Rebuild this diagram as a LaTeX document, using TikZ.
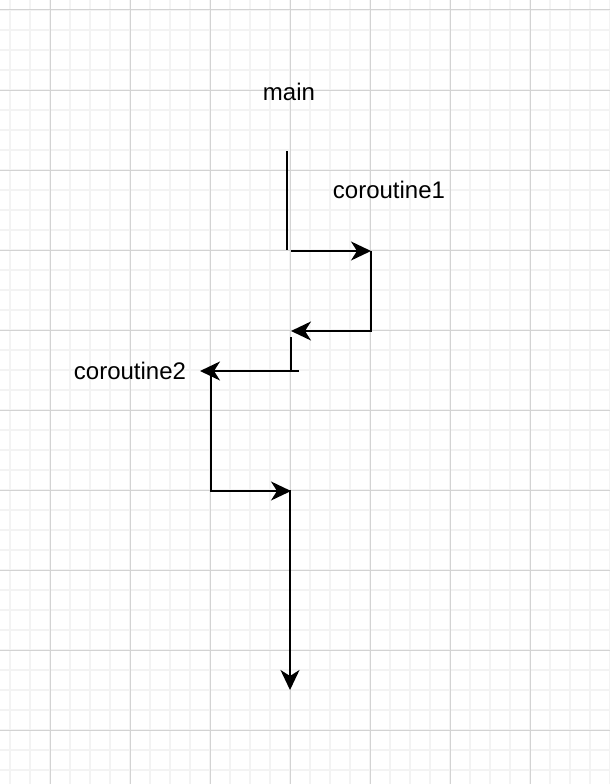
\documentclass[tikz,border=0pt]{standalone}
\usepackage{fontspec}
\setmainfont{Liberation Sans}
\usetikzlibrary{arrows.meta}
\definecolor{minorgrid}{HTML}{F3F3F3}
\definecolor{majorgrid}{HTML}{D3D3D3}
\tikzset{
  lbl/.style={font=\fontsize{24}{28}\selectfont, inner sep=0pt, anchor=center},
  wire/.style={line width=2pt, black},
  arr/.style={wire, -{Stealth[length=20pt,width=19pt,inset=6pt]}}
}
\begin{document}
\begin{tikzpicture}[x=1pt,y=-1pt]
\useasboundingbox (0,0) rectangle (610,784);
\fill[white] (0,0) rectangle (610,784);
% minor grid
\foreach \k in {10,30,...,610} \draw[minorgrid, line width=1.5pt] (\k,0) -- (\k,784);
\foreach \k in {10,30,...,784} \draw[minorgrid, line width=1.5pt] (0,\k) -- (610,\k);
% major grid
\foreach \k in {50,130,...,610} \draw[majorgrid, line width=1pt] (\k,0) -- (\k,784);
\foreach \k in {10,90,...,784} \draw[majorgrid, line width=1pt] (0,\k) -- (610,\k);

% labels
\node[lbl] (main) at (289,92) {main};
\node[lbl] (co1) at (389,190) {coroutine1};
\node[lbl] (co2) at (130,371) {coroutine2};

% points
\coordinate (mTop) at (287,151);
\coordinate (mBot) at (287,250);
\coordinate (aStart) at (291,251);
\coordinate (aEnd) at (371,251);
\coordinate (bStart) at (371,251);
\coordinate (bCorner) at (371,331);
\coordinate (bEnd) at (291,331);
\coordinate (cTop) at (291,337);
\coordinate (cBot) at (291,371);
\coordinate (dStart) at (299,371);
\coordinate (dEnd) at (200,371);
\coordinate (eStart) at (211,371);
\coordinate (eCorner) at (211,491);
\coordinate (eEnd) at (291,491);
\coordinate (fStart) at (290,490);
\coordinate (fEnd) at (290,690);

\draw[wire] (mTop) -- (mBot);
\draw[arr] (aStart) -- (aEnd);
\draw[arr] (bStart) -- (bCorner) -- (bEnd);
\draw[wire] (cTop) -- (cBot);
\draw[arr] (dStart) -- (dEnd);
\draw[arr] (eStart) -- (eCorner) -- (eEnd);
\draw[arr] (fStart) -- (fEnd);
\end{tikzpicture}
\end{document}
